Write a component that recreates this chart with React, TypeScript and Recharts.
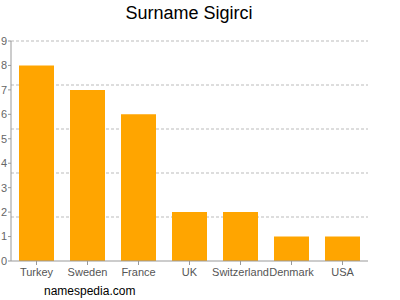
import React from "react";
import { BarChart, Bar, XAxis, YAxis, CartesianGrid } from "recharts";

const countries = ["Turkey", "Sweden", "France", "UK", "Switzerland", "Denmark", "USA"];
const counts = [8, 7, 6, 2, 2, 1, 1];
const yTicks = [0, 1, 2, 3, 4, 5, 6, 7, 8, 9];
const yDomain = [0, 9];
const gridTicks = [1.8, 3.6, 5.4, 7.2, 9];
const title = "Surname Sigirci";
const footer = "namespedia.com";

const data = countries.map((c, i) => ({ name: c, value: counts[i] }));

function gridGen(props: any): number[] {
  const s = props?.yAxis?.scale;
  return gridTicks.map((t) => {
    if (typeof s === "function") return s(t);
    if (s && typeof s.map === "function") {
      const v = s.map(t);
      if (typeof v === "number") return v;
    }
    if (s && typeof s.scale === "function") return s.scale(t);
    const off = props.offset;
    return off.top + off.height * (1 - (t - yDomain[0]) / (yDomain[1] - yDomain[0]));
  });
}

export default function App() {
  const font = "'Liberation Sans', Arial, sans-serif";
  return (
    <div style={{ position: "absolute", left: 0, top: 0, width: 400, height: 300, fontFamily: font }}>
      <div style={{ position: "absolute", left: 0, top: 3, width: 378, textAlign: "center", fontSize: 18, color: "#000" }}>
        {title}
      </div>
      <BarChart
        width={400}
        height={300}
        data={data}
        margin={{ top: 41, right: 32, bottom: 9, left: 0 }}
      >
        <CartesianGrid
          vertical={false}
          stroke="#bbb"
          strokeDasharray="3 2"
          horizontalCoordinatesGenerator={gridGen}
        />
        <XAxis
          dataKey="name"
          interval={0}
          height={30}
          tick={{ fontSize: 11, fill: "#555", fontFamily: font }}
          tickSize={4}
          tickMargin={3}
          stroke="#999"
        />
        <YAxis
          domain={yDomain}
          ticks={yTicks}
          interval={0}
          width={11}
          tick={{ fontSize: 11, fill: "#666", fontFamily: font }}
          tickSize={3}
          tickMargin={1}
          stroke="#999"
        />
        <Bar dataKey="value" fill="#FFA500" barSize={35} isAnimationActive={false} />
      </BarChart>
      <div style={{ position: "absolute", left: 44, top: 284, fontSize: 12, color: "#000" }}>{footer}</div>
    </div>
  );
}
